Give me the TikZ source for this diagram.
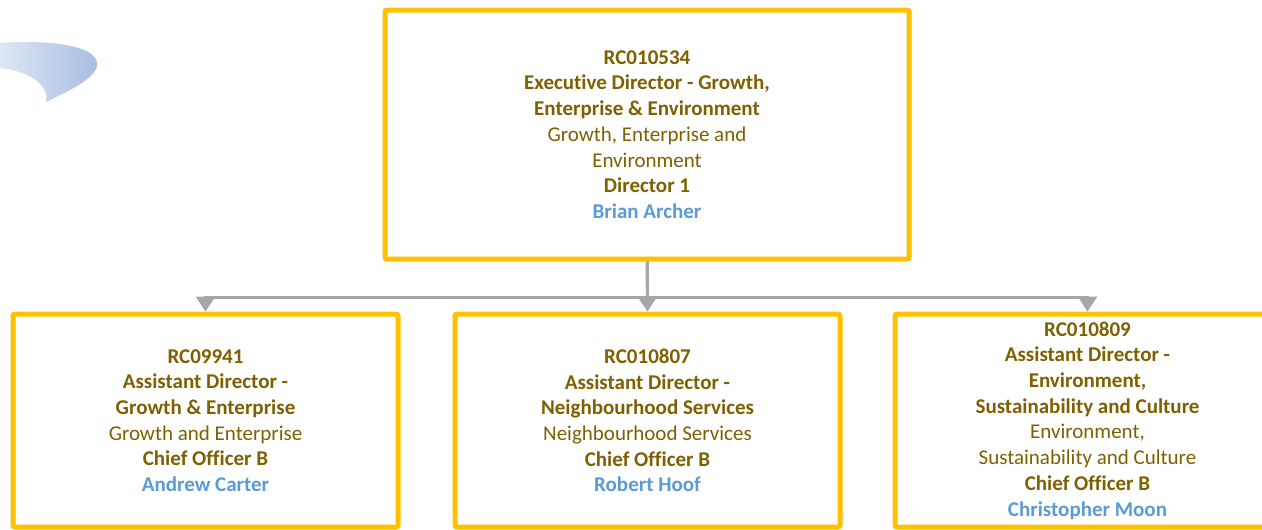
\documentclass[tikz,border=0pt]{standalone}
\usepackage{fontspec}
\setmainfont[Ligatures=NoCommon]{Carlito}
\usetikzlibrary{arrows.meta}
\definecolor{gold}{HTML}{FFC000}
\definecolor{txt}{HTML}{7F6000}
\definecolor{nm}{HTML}{5B9BD5}
\definecolor{ln}{HTML}{A6A6A6}
\definecolor{swA}{HTML}{DDE6F4}
\definecolor{swB}{HTML}{A7BDE1}
\tikzset{
  orgbox/.style={draw=gold, line width=5pt, rounded corners=2pt, fill=white,
    align=center, text=txt, font=\fontsize{21}{25.7}\selectfont, inner sep=0pt},
  conn/.style={draw=ln, line width=3pt},
  tri/.style={-{Triangle[width=19pt,length=15pt]}}
}
\newcommand{\nmtext}[1]{\textcolor{nm}{\textbf{#1}}}
\begin{document}
\begin{tikzpicture}[x=1pt,y=-1pt]
\useasboundingbox (0,0) rectangle (1262,530);
% swoosh
\shade[left color=swA, right color=swB]
  (0,43) .. controls (60,39) and (100,48) .. (97,66)
  .. controls (94,80) and (66,92) .. (46,102)
  .. controls (50,86) and (30,71) .. (0,68) -- cycle;
% boxes
\node[orgbox, minimum width=524pt, minimum height=249pt] (top) at (647,134.5)
 {\textbf{RC010534}\\ \textbf{Executive Director - Growth,}\\ \textbf{Enterprise \& Environment}\\
  Growth, Enterprise and\\ Environment\\ \textbf{Director 1}\\ \nmtext{Brian Archer}};
\node[orgbox, minimum width=385pt, minimum height=213pt] (b1) at (205.5,420.5)
 {\textbf{RC09941}\\ \textbf{Assistant Director -}\\ \textbf{Growth \& Enterprise}\\
  Growth and Enterprise\\ \textbf{Chief Officer B}\\ \nmtext{Andrew Carter}};
\node[orgbox, minimum width=385pt, minimum height=213pt] (b2) at (647.5,420.5)
 {\textbf{RC010807}\\ \textbf{Assistant Director -}\\ \textbf{Neighbourhood Services}\\
  Neighbourhood Services\\ \textbf{Chief Officer B}\\ \nmtext{Robert Hoof}};
\node[orgbox, minimum width=385pt, minimum height=213pt] (b3) at (1087.5,420.5)
 {\textbf{RC010809}\\ \textbf{Assistant Director -}\\ \textbf{Environment,}\\
  \textbf{Sustainability and Culture}\\ Environment,\\ Sustainability and Culture\\
  \textbf{Chief Officer B}\\ \nmtext{Christopher Moon}};
% connectors
\coordinate (bus) at (647,297);
\draw[conn, tri] (top.south) -- (bus) -| (b1.north);
\draw[conn, tri] (top.south) -- (bus) -| (b3.north);
\draw[conn, tri] (top.south) -- (b2.north);
\end{tikzpicture}
\end{document}
